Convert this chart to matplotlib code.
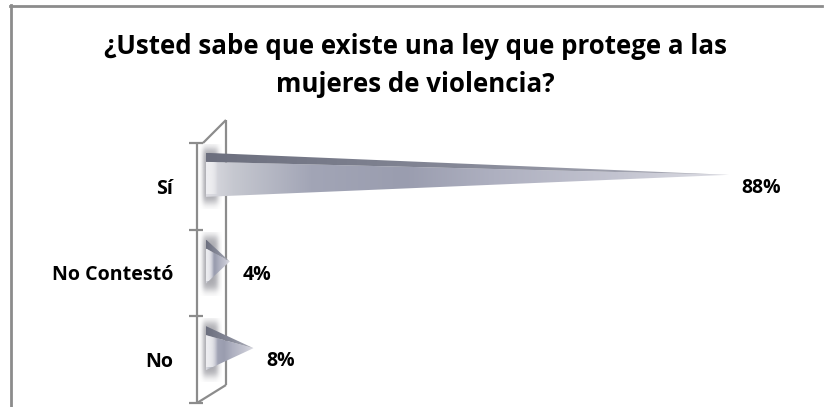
import numpy as np
import matplotlib
matplotlib.use("Agg")
import matplotlib.pyplot as plt
from matplotlib.patches import Polygon
from matplotlib.colors import LinearSegmentedColormap, to_rgb
from matplotlib.lines import Line2D

# ---------------- data ----------------
categories = ["Sí", "No Contestó", "No"]
values = [88, 4, 8]
value_labels = ["88%", "4%", "8%"]
title_lines = ["¿Usted sabe que existe una ley que protege a las", "mujeres de violencia?"]

# ---------------- figure / layout ----------------
W, H, DPI = 830, 407, 100
FONT = ['Open Sans', 'DejaVu Sans']
plt.rcParams['font.family'] = FONT
fig = plt.figure(figsize=(W / DPI, H / DPI), dpi=DPI)
renderer = fig.canvas.get_renderer()


def fit_size(text, target_px, base=12):
    t = fig.text(0, 0, text, fontsize=base, fontweight='bold')
    w = t.get_window_extent(renderer).width
    t.remove()
    return base * target_px / w


title_fs = fit_size(title_lines[0], 624)
label_fs = fit_size("No Contestó", 121)
value_fs = fit_size("88%", 40)

x0_px, px_per_unit = 206, 5.94
ax_left, ax_right = x0_px, x0_px + 100 * px_per_unit
ax_top, ax_bot = 143, 403
ax = fig.add_axes([ax_left / W, (H - ax_bot) / H, (ax_right - ax_left) / W, (ax_bot - ax_top) / H])
n = len(categories)
ax.set_xlim(0, 100)
ax.set_ylim(-0.5, n - 0.5)
ppy = (ax_bot - ax_top) / n


def dx(px):
    return px / px_per_unit


def dy(px):
    return px / ppy


ypos = [n - 1 - i for i in range(n)]

for s in ax.spines.values():
    s.set_visible(False)
ax.set_xticks([])
ax.set_yticks(ypos)
ax.set_yticklabels(categories, fontsize=label_fs, fontweight='bold')
ax.tick_params(axis='y', length=0, pad=33 * 72 / DPI)
ax.patch.set_visible(False)

wall_c = '#8c8c8c'
lw = 1.6
kw = dict(color=wall_c, lw=lw, clip_on=False, zorder=2, solid_capstyle='butt')
ax.plot([dx(-9), dx(-9)], [-0.5, n - 0.5], **kw)
ax.plot([dx(20), dx(20)], [-0.5 + dy(18), n - 0.5 + dy(23)], **kw)
ax.plot([dx(-3), dx(20)], [n - 0.5, n - 0.5 + dy(23)], **kw)
ax.plot([dx(-9), dx(20)], [-0.5, -0.5 + dy(18)], **kw)
for t in np.arange(-0.5, n, 1.0):
    ax.plot([dx(-17), dx(-3)], [t, t], **kw)

front_cmap = LinearSegmentedColormap.from_list(
    'f', [(0, '#dcdce2'), (0.05, '#c6c8d0'), (0.2, '#a2a5b6'), (0.38, '#9a9daf'),
          (0.55, '#aeb0c0'), (0.8, '#c4c5d1'), (1, '#dedee5')])
top_cmap = LinearSegmentedColormap.from_list(
    't', [(0, '#6c6f7e'), (0.5, '#868998'), (1, '#b0b1bc')])
grad = np.linspace(0, 1, 256)[None, :]

shadow_rgb = to_rgb('#6e6e78')
for y, v in zip(ypos, values):
    c = y + dy(11.5)
    top, bot, mid = c + dy(22), c - dy(22), c + dy(13)

    # blurred shadow on the wall
    sx0, sx1 = dx(-8), dx(16)
    sy0, sy1 = c - dy(34), c + dy(30)
    xs = np.linspace(sx0, sx1, 60)
    ys = np.linspace(sy0, sy1, 80)
    XX, YY = np.meshgrid(xs, ys)
    fx = 0.5 * (np.tanh((XX - dx(-3)) / dx(2.5)) - np.tanh((XX - dx(12)) / dx(3)))
    fy = 0.5 * (np.tanh((YY - (bot - dy(6))) / dy(5)) - np.tanh((YY - (top + dy(4))) / dy(5)))
    img = np.zeros(XX.shape + (4,))
    img[..., :3] = shadow_rgb
    img[..., 3] = 0.6 * fx * fy
    ax.imshow(img, extent=(sx0, sx1, sy0, sy1), origin='lower', aspect='auto',
              zorder=2.5, interpolation='bilinear', clip_on=False)

    # front face
    front = Polygon([(0, mid), (v, c), (0, bot)], closed=True, fc='none', ec='none')
    ax.add_patch(front)
    im = ax.imshow(grad, cmap=front_cmap, extent=(0, v, bot, mid), origin='lower',
                   aspect='auto', zorder=3, interpolation='bilinear')
    im.set_clip_path(front)
    # top face
    topf = Polygon([(0, top), (v, c), (0, mid)], closed=True, fc='none', ec='none')
    ax.add_patch(topf)
    im2 = ax.imshow(grad, cmap=top_cmap, extent=(0, v, c, top), origin='lower',
                    aspect='auto', zorder=3, interpolation='bilinear')
    im2.set_clip_path(topf)

    # light base face
    bx = np.linspace(0, 1, 30)[None, :]
    base = np.zeros((1, 30, 4))
    base[..., :3] = to_rgb('#f0f0f3')
    base[..., 3] = 0.9 * (1 - bx ** 3)
    bw = min(dx(12), v * 0.3)
    bi = ax.imshow(base, extent=(0, bw, bot + dy(3), mid), origin='lower', aspect='auto',
                   zorder=3.5, interpolation='bilinear')
    bi.set_clip_path(front)

ax.set_xlim(0, 100)
ax.set_ylim(-0.5, n - 0.5)

for y, v, lab in zip(ypos, values, value_labels):
    ax.annotate(lab, (v, y), xytext=(13 * 72 / DPI, -1.5 * 72 / DPI), textcoords='offset points',
                ha='left', va='center', fontsize=value_fs, fontweight='bold', color='black',
                annotation_clip=False)

for i, line in enumerate(title_lines):
    fig.text(415 / W, 1 - (47 + 38 * i) / H, line, ha='center', va='center',
             fontsize=title_fs, fontweight='bold', color='black')

fig.add_artist(Line2D([10.5 / W, 10.5 / W], [0, 1 - 5 / H], color='#8c8c8c', lw=2,
                      transform=fig.transFigure))
fig.add_artist(Line2D([10 / W, 822 / W], [1 - 5.5 / H, 1 - 5.5 / H], color='#8c8c8c', lw=2,
                      transform=fig.transFigure))

fig.savefig('out.png', dpi=DPI)
